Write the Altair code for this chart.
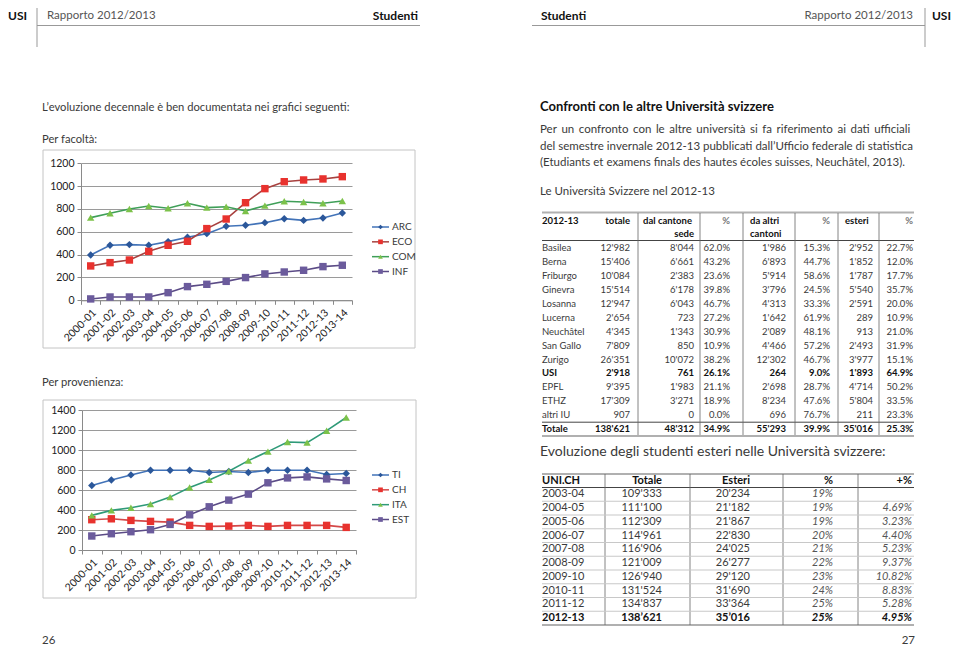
import altair as alt
import pandas as pd

# ---------------- data ----------------
years = ["2000-01", "2001-02", "2002-03", "2003-04", "2004-05", "2005-06", "2006-07",
         "2007-08", "2008-09", "2009-10", "2010-11", "2011-12", "2012-13", "2013-14"]

fac_series = ["ARC", "ECO", "COM", "INF"]
arc = [397, 482, 488, 482, 514, 552, 584, 648, 657, 680, 715, 700, 721, 765]
eco = [301, 330, 353, 429, 482, 517, 628, 712, 855, 978, 1039, 1054, 1063, 1083]
com = [724, 762, 800, 826, 806, 850, 812, 820, 782, 829, 867, 861, 850, 870]
inf = [12, 29, 29, 29, 67, 120, 140, 166, 199, 231, 248, 263, 295, 307]

prov_series = ["TI", "CH", "ITA", "EST"]
ti = [645, 700, 751, 798, 798, 798, 775, 785, 775, 798, 798, 798, 755, 765]
ch = [303, 312, 296, 286, 279, 246, 236, 239, 246, 236, 246, 246, 246, 226]
ita = [346, 396, 422, 459, 529, 625, 701, 788, 894, 984, 1080, 1074, 1193, 1325]
est = [140, 163, 183, 203, 256, 352, 432, 499, 559, 672, 721, 731, 711, 695]

uni_names = ["Basilea", "Berna", "Friburgo", "Ginevra", "Losanna", "Lucerna", "Neuchâtel",
             "San Gallo", "Zurigo", "USI", "EPFL", "ETHZ", "altri IU", "Totale"]
uni_tot = [12982, 15406, 10084, 15514, 12947, 2654, 4345, 7809, 26351, 2918, 9395, 17309, 907, 138621]
uni_sede = [8044, 6661, 2383, 6178, 6043, 723, 1343, 850, 10072, 761, 1983, 3271, 0, 48312]
uni_sede_pct = [62.0, 43.2, 23.6, 39.8, 46.7, 27.2, 30.9, 10.9, 38.2, 26.1, 21.1, 18.9, 0.0, 34.9]
uni_altri = [1986, 6893, 5914, 3796, 4313, 1642, 2089, 4466, 12302, 264, 2698, 8234, 696, 55293]
uni_altri_pct = [15.3, 44.7, 58.6, 24.5, 33.3, 61.9, 48.1, 57.2, 46.7, 9.0, 28.7, 47.6, 76.7, 39.9]
uni_est = [2952, 1852, 1787, 5540, 2591, 289, 913, 2493, 3977, 1893, 4714, 5804, 211, 35016]
uni_est_pct = [22.7, 12.0, 17.7, 35.7, 20.0, 10.9, 21.0, 31.9, 15.1, 64.9, 50.2, 33.5, 23.3, 25.3]
uni_bold = ["USI", "Totale"]

ev_years = ["2003-04", "2004-05", "2005-06", "2006-07", "2007-08", "2008-09", "2009-10",
            "2010-11", "2011-12", "2012-13"]
ev_tot = [109333, 111100, 112309, 114961, 116906, 121009, 126940, 131524, 134837, 138621]
ev_est = [20234, 21182, 21867, 22830, 24025, 26277, 29120, 31690, 33364, 35016]
ev_pct = [19, 19, 19, 20, 21, 22, 23, 24, 25, 25]
ev_inc = [None, 4.69, 3.23, 4.40, 5.23, 9.37, 10.82, 8.83, 5.28, 4.95]

# ---------------- layout / style ----------------
W, H = 944, 642
def px(v): return v - 8
def py(v): return v - 8

BODY = "Lato, 'Open Sans', sans-serif"
COND = "Lato, sans-serif"
TXT = "#3a3a3a"
GRID = "#9a9a9a"
AX = "#8a8a8a"
FRAME = "#c4c4c4"
T1 = 9.5
WIDE_SPACE = "\u2004\u200a"   # wider word gap to imitate the justified first line

one = pd.DataFrame({"k": [0]})


def txt(s, x, y, size=11.5, weight="normal", align="left", color=TXT, font=BODY, style="normal"):
    return alt.Chart(one).mark_text(align=align, baseline="middle", fontSize=size, fontWeight=weight,
                                    font=font, color=color, fontStyle=style).encode(
        x=alt.value(px(x)), y=alt.value(py(y)), text=alt.value(s))


def hline(x1, x2, y, color, w=1.0):
    return alt.Chart(one).mark_rule(color=color, strokeWidth=w).encode(
        x=alt.value(px(x1)), x2=alt.value(px(x2)), y=alt.value(py(y)))


def vline(x, y1, y2, color, w=1.0):
    return alt.Chart(one).mark_rule(color=color, strokeWidth=w).encode(
        x=alt.value(px(x)), y=alt.value(py(y1)), y2=alt.value(py(y2)))


def frame(x1, y1, x2, y2):
    return alt.Chart(one).mark_rect(fillOpacity=0, stroke=FRAME, strokeWidth=1).encode(
        x=alt.value(px(x1)), x2=alt.value(px(x2)), y=alt.value(py(y1)), y2=alt.value(py(y2)))


def fmt(n, q="'"):
    return f"{n:,}".replace(",", q)


def line_chart(series, vals, y_max, xr, yr, line_colors, mark_colors, shapes, sizes):
    df = pd.DataFrame({
        "anno": years * len(series),
        "serie": sum([[s] * len(years) for s in series], []),
        "valore": sum(vals, []),
    })
    xs = alt.Scale(type="band", domain=years, range=[px(xr[0]), px(xr[1])], paddingInner=0, paddingOuter=0)
    ys = alt.Scale(domain=[0, y_max], range=[py(yr[0]), py(yr[1])], nice=False, zero=True)
    yaxis = alt.Axis(orient="left", offset=-px(xr[0]), values=list(range(0, y_max + 1, 200)), format="d",
                     grid=True, gridColor=GRID, gridWidth=1, domainColor=AX, tickColor=AX, tickSize=4,
                     labelFont=BODY, labelFontSize=10.5, labelColor="#222", labelPadding=3, title=None)
    xaxis = alt.Axis(orient="bottom", offset=py(yr[0]) - H, labelAngle=-45, tickBand="extent",
                     grid=False, domainColor=AX, tickColor=AX, tickSize=4, labelFont=BODY,
                     labelFontSize=10.5, labelColor="#222", labelPadding=3, title=None)
    x = alt.X("anno:N", scale=xs, axis=xaxis)
    y = alt.Y("valore:Q", scale=ys, axis=yaxis)
    base = alt.Chart(df)
    lines = base.mark_line(strokeWidth=1.6).encode(
        x=x, y=y,
        stroke=alt.Stroke("serie:N", scale=alt.Scale(domain=series, range=line_colors), legend=None))
    pts = base.mark_point(filled=True, opacity=1).encode(
        x=x, y=y,
        fill=alt.Fill("serie:N", scale=alt.Scale(domain=series, range=mark_colors), legend=None),
        shape=alt.Shape("serie:N", scale=alt.Scale(domain=series, range=shapes), legend=None),
        size=alt.Size("serie:N", scale=alt.Scale(domain=series, range=sizes), legend=None))
    return alt.layer(lines, pts)


def legend(series, y1, y2, line_colors, mark_colors, shapes):
    ldf = pd.DataFrame({"serie": series})
    ys = alt.Scale(type="point", domain=series, range=[py(y1), py(y2)], padding=0)
    y = alt.Y("serie:N", scale=ys, axis=None)
    r = alt.Chart(ldf).mark_rule(strokeWidth=1.5).encode(
        y=y, x=alt.value(px(372)), x2=alt.value(px(389)),
        stroke=alt.Stroke("serie:N", scale=alt.Scale(domain=series, range=line_colors), legend=None))
    p = alt.Chart(ldf).mark_point(filled=True, opacity=1, size=22).encode(
        y=y, x=alt.value(px(380.5)),
        fill=alt.Fill("serie:N", scale=alt.Scale(domain=series, range=mark_colors), legend=None),
        shape=alt.Shape("serie:N", scale=alt.Scale(domain=series, range=shapes), legend=None))
    t = alt.Chart(ldf).mark_text(align="left", baseline="middle", fontSize=10, font=BODY, color=TXT).encode(
        y=y, x=alt.value(px(392)), text="serie:N")
    return alt.layer(r, p, t)


fac_line = ["#4273b8", "#a8413f", "#3f9f58", "#5b4b86"]
fac_mark = ["#2b579a", "#e8322e", "#7cc24a", "#6b5b9c"]
prov_line = ["#4273b8", "#d44848", "#2f9a78", "#5b4b86"]
prov_mark = ["#2b579a", "#e8322e", "#7cc24a", "#6b5b9c"]
shapes = ["diamond", "square", "triangle-up", "square"]
sizes = [55, 55, 60, 55]

chart1 = line_chart(fac_series, [arc, eco, com, inf], 1200, (81, 352), (300.3, 163.3),
                    fac_line, fac_mark, shapes, sizes)
chart2 = line_chart(prov_series, [ti, ch, ita, est], 1400, (82, 356), (550, 410),
                    prov_line, prov_mark, shapes, sizes)
leg1 = legend(fac_series, 227, 271.5, fac_line, fac_mark, shapes)
leg2 = legend(prov_series, 475, 519.5, prov_line, prov_mark, shapes)

# ---------------- table 1 ----------------
t1 = pd.DataFrame({
    "nome": uni_names,
    "totale": [fmt(v) for v in uni_tot],
    "sede": [fmt(v) for v in uni_sede],
    "sede_pct": [f"{v:.1f}%" for v in uni_sede_pct],
    "altri": [fmt(v) for v in uni_altri],
    "altri_pct": [f"{v:.1f}%" for v in uni_altri_pct],
    "esteri": [fmt(v) for v in uni_est],
    "esteri_pct": [f"{v:.1f}%" for v in uni_est_pct],
    "bold": [1 if n in uni_bold else 0 for n in uni_names],
})
ys1 = alt.Scale(type="band", domain=uni_names, range=[py(241.5), py(436)], paddingInner=0, paddingOuter=0)
cols1 = [("nome", 542, "left"), ("totale", 630, "right"), ("sede", 694, "right"),
         ("sede_pct", 730, "right"), ("altri", 786, "right"), ("altri_pct", 830, "right"),
         ("esteri", 873, "right"), ("esteri_pct", 913, "right")]
tab1_layers = []
for col, x, al in cols1:
    for b in (0, 1):
        tab1_layers.append(
            alt.Chart(t1).transform_filter(alt.datum.bold == b).mark_text(
                align=al, baseline="middle", font=COND, fontSize=T1,
                fontWeight="bold" if b else "normal", color="#111" if b else TXT).encode(
                x=alt.value(px(x)), y=alt.Y("nome:N", scale=ys1, axis=None), text=f"{col}:N"))
table1 = alt.layer(*tab1_layers)

# ---------------- table 2 ----------------
t2 = pd.DataFrame({
    "anno": ev_years,
    "tot": [fmt(v, "’" if i == len(ev_years) - 1 else "'") for i, v in enumerate(ev_tot)],
    "est": [fmt(v, "’" if i == len(ev_years) - 1 else "'") for i, v in enumerate(ev_est)],
    "pct": [f"{v}%" for v in ev_pct],
    "inc": ["" if v is None else f"{v:.2f}%" for v in ev_inc],
    "bold": [1 if i == len(ev_years) - 1 else 0 for i in range(len(ev_years))],
    "first": [1 if i == 0 else 0 for i in range(len(ev_years))],
})
ys2 = alt.Scale(type="band", domain=ev_years, range=[py(487.5), py(625)], paddingInner=0, paddingOuter=0)
cols2 = [("anno", 542, "left", "normal"), ("tot", 662, "right", "normal"), ("est", 750, "right", "normal"),
         ("pct", 833, "right", "italic"), ("inc", 912, "right", "italic")]
tab2_layers = [
    alt.Chart(t2).transform_filter(alt.datum.first == 0).mark_rule(color="#c8c8c8", strokeWidth=1.2).encode(
        y=alt.Y("anno:N", scale=ys2, axis=None, bandPosition=0),
        x=alt.value(px(542)), x2=alt.value(px(914)))
]
for col, x, al, st in cols2:
    for b in (0, 1):
        tab2_layers.append(
            alt.Chart(t2).transform_filter(alt.datum.bold == b).mark_text(
                align=al, baseline="middle", font=BODY, fontSize=11, fontStyle=st,
                fontWeight="bold" if b else "normal",
                color="#111" if b else ("#555" if st == "italic" else TXT)).encode(
                x=alt.value(px(x)), y=alt.Y("anno:N", scale=ys2, axis=None), text=f"{col}:N"))
table2 = alt.layer(*tab2_layers)

# ---------------- static page elements ----------------
HB = dict(size=T1, weight="bold", font=COND, color="#111")
HY = 16
para1 = "Per un confronto con le altre università si fa riferimento ai dati ufficiali".replace(" ", WIDE_SPACE)
page = [
    # headers
    txt("USI", 8, HY, size=12, weight="bold", color="#111"),
    vline(37, 0, 47, "#999"),
    txt("Rapporto 2012/2013", 47, HY, size=11.5, color="#555"),
    txt("Studenti", 418, HY, size=12, weight="bold", align="right", color="#111"),
    hline(37, 420, 25.5, "#999"),
    txt("Studenti", 541, HY, size=12, weight="bold", color="#111"),
    txt("Rapporto 2012/2013", 913, HY, size=11.5, align="right", color="#555"),
    vline(925, 0, 47, "#999"),
    txt("USI", 951, HY, size=12, weight="bold", color="#111", align="right"),
    hline(532, 925, 25.5, "#999"),
    # left page text
    txt("L’evoluzione decennale è ben documentata nei grafici seguenti:", 42, 108, size=11.2),
    txt("Per facoltà:", 42, 140, size=11.2),
    txt("Per provenienza:", 42, 383, size=11.2),
    frame(43, 150, 415, 348),
    frame(43, 400, 416, 598),
    txt("26", 42, 641, size=11.5),
    # right page text
    txt("Confronti con le altre Università svizzere", 540, 107, size=13, weight="bold", color="#111"),
    txt(para1, 540, 130),
    txt("del semestre invernale 2012-13 pubblicati dall’Ufficio federale di statistica", 540, 147),
    txt("(Etudiants et examens finals des hautes écoles suisses, Neuchâtel, 2013).", 540, 163),
    txt("Le Università Svizzere nel 2012-13", 540, 192),
    txt("Evoluzione degli studenti esteri nelle Università svizzere:", 540, 452, size=14),
    txt("27", 915, 641, size=11.5, align="right"),
    # table 1 header and rules
    hline(542, 914, 212.5, "#b0b0b0", 2),
    txt("2012-13", 542, 221, **HB),
    txt("totale", 630, 221, align="right", **HB),
    txt("dal cantone", 643, 221, **HB),
    txt("sede", 694, 234, align="right", **HB),
    txt("%", 730, 221, align="right", size=T1, weight="bold", font=COND, color="#777"),
    txt("da altri", 750, 221, **HB),
    txt("cantoni", 750, 234, **HB),
    txt("%", 830, 221, align="right", size=T1, weight="bold", font=COND, color="#777"),
    txt("esteri", 845, 221, **HB),
    txt("%", 913, 221, align="right", size=T1, weight="bold", font=COND, color="#777"),
    hline(542, 914, 240.5, "#444", 1),
    hline(542, 914, 422.2, "#444", 1),
    hline(542, 914, 436, "#b0b0b0", 2),
]
for xv in [638, 700, 743, 795, 838, 879]:
    page.append(vline(xv, 213, 435, "#666", 0.8))
page += [
    hline(542, 914, 474, "#b0b0b0", 2),
    txt("UNI.CH", 542, 481, size=11, weight="bold", color="#111"),
    txt("Totale", 662, 481, size=11, weight="bold", color="#111", align="right"),
    txt("Esteri", 750, 481, size=11, weight="bold", color="#111", align="right"),
    txt("%", 833, 481, size=11, weight="bold", color="#111", align="right"),
    txt("+%", 912, 481, size=11, weight="bold", color="#111", align="right"),
    hline(542, 914, 487.5, "#444", 1),
    hline(542, 914, 625, "#b0b0b0", 2),
]
for xv in [605, 690, 783, 858]:
    page.append(vline(xv, 474, 625, "#666", 0.8))

layers = page + [chart1, chart2, leg1, leg2, table1, table2]

chart = alt.layer(*layers).resolve_scale(
    x="independent", y="independent", stroke="independent", fill="independent",
    shape="independent", size="independent"
).properties(
    width=W, height=H, padding=0, autosize=alt.AutoSizeParams(type="none"), background="white"
).configure_view(strokeWidth=0)

chart.save("out.html", embed_options={"renderer": "svg", "actions": False})
